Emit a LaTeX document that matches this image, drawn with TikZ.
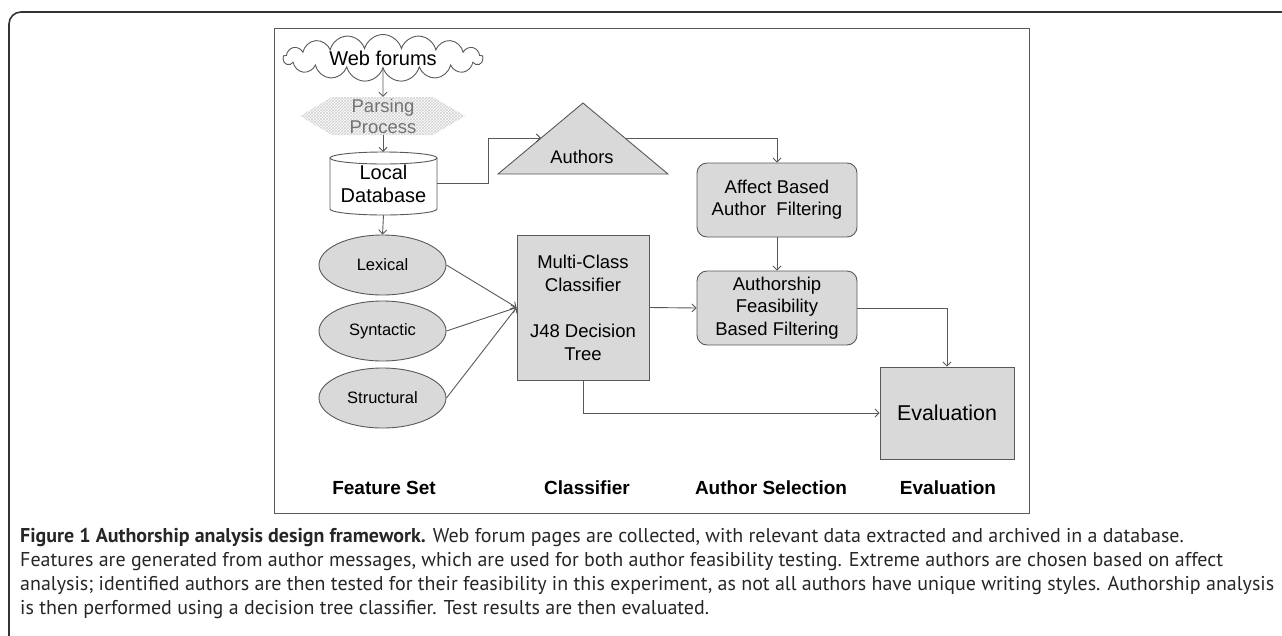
\documentclass[tikz,border=0pt]{standalone}
\usepackage{fontspec}
\setmainfont{Liberation Sans}
\newfontfamily\capfont{PT Sans}
\usetikzlibrary{arrows.meta,shapes.symbols,shapes.geometric,patterns}
\definecolor{boxfill}{HTML}{D9D9D9}
\definecolor{linec}{HTML}{595959}
\definecolor{captext}{HTML}{262626}
\tikzset{
  arr/.style={draw=linec, line width=0.9pt, -{Straight Barb[length=4pt,width=8pt]}},
  plainline/.style={draw=linec, line width=0.9pt},
  graybox/.style={draw=linec, line width=0.9pt, fill=boxfill, rectangle, align=center, inner sep=0pt},
  roundbox/.style={graybox, rounded corners=10pt},
  feat/.style={ellipse, draw=linec, line width=0.9pt, fill=boxfill, minimum width=127pt, minimum height=60pt, inner sep=0pt, font=\fontsize{16.5}{19}\selectfont},
  collabel/.style={font=\fontsize{19}{22}\selectfont\bfseries, inner sep=0pt},
}
\begin{document}
\begin{tikzpicture}[x=1pt,y=-1pt]
\useasboundingbox (0,0) rectangle (1282,635);
% outer frame
\draw[line width=1.6pt, draw=black!80, rounded corners=12pt] (9,640) -- (9,12) -- (1290,12);
% inner frame
\draw[draw=linec, line width=0.9pt] (274,28) rectangle (1029,513);

% cloud
\node[cloud, cloud puffs=17, cloud ignores aspect, draw=linec, line width=0.9pt, fill=white,
      minimum width=200pt, minimum height=47pt, inner sep=1pt,
      font=\fontsize{20}{22}\selectfont] (web) at (383,58) {Web forums};

% parsing process
\fill[pattern=crosshatch, pattern color=gray!38] (300,116) -- (332,97) -- (433,97) -- (465,116) -- (433,135) -- (332,135) -- cycle;
\node[minimum width=165pt, minimum height=38pt, inner sep=0pt, align=center, text=black!55,
      font=\fontsize{18.5}{21}\selectfont] (parse) at (383,116) {Parsing\\Process};

% database cylinder
\fill[white] (330,158) -- (330,209) arc[start angle=180,end angle=0,x radius=53.5,y radius=6] -- (437,158) -- cycle;
\draw[plainline] (330,158) -- (330,209) arc[start angle=180,end angle=0,x radius=53.5,y radius=6] -- (437,158);
\draw[plainline] (383.5,158) ellipse[x radius=53.5,y radius=6];
\node[minimum width=107pt, minimum height=63pt, inner sep=0pt, align=center,
      font=\fontsize{20}{23}\selectfont] (db) at (383.5,183.5) {Local\\Database};

% authors triangle
\coordinate (tA) at (583,103);
\coordinate (tL) at (498,174);
\coordinate (tR) at (668,174);
\filldraw[draw=linec, line width=0.9pt, fill=boxfill] (tA) -- (tL) -- (tR) -- cycle;
\node[font=\fontsize{18.3}{21}\selectfont, inner sep=0pt] (authors) at (582,157) {Authors};
\coordinate (authIn) at (541,138);
\coordinate (authOut) at (625,138);
\coordinate (bend) at (488,138);

% features
\node[feat] (lex) at (382.5,265) {Lexical};
\node[feat] (syn) at (382.5,331) {Syntactic};
\node[feat] (str) at (382.5,398) {Structural};

% classifier
\node[graybox, minimum width=132pt, minimum height=145pt, font=\fontsize{18.5}{23}\selectfont] (mc) at (583,307.5)
  {Multi-Class\\Classifier\\\mbox{}\\J48 Decision\\Tree};

% author selection
\node[roundbox, minimum width=160pt, minimum height=74pt, font=\fontsize{18.5}{22}\selectfont] (aff) at (777,200)
  {Affect Based\\Author\ \ Filtering};
\node[roundbox, minimum width=160pt, minimum height=74pt, font=\fontsize{18.5}{22.5}\selectfont] (auth) at (777,308)
  {Authorship\\Feasibility\\Based Filtering};

% evaluation
\node[graybox, minimum width=134pt, minimum height=92pt, font=\fontsize{21.4}{24}\selectfont] (eval) at (947,413) {Evaluation};

% column labels
\node[collabel] (l1) at (384,488) {Feature Set};
\node[collabel] (l2) at (587,488) {Classifier};
\node[collabel] (l3) at (771,488) {Author Selection};
\node[collabel] (l4) at (948,488) {Evaluation};

% connectors
\draw[arr] (web.south) -- (parse.north);
\draw[arr] (parse.south) -- (383,152);
\draw[arr] (db.south) -- (lex.north);
\draw[plainline] (db.east) -| (bend);
\draw[arr] (bend) -- (authIn);
\draw[arr] (authOut) -| (aff.north);
\draw[arr] (aff.south) -- (auth.north);
\draw[arr] (lex.east) -- (mc.west);
\draw[arr] (syn.east) -- (mc.west);
\draw[arr] (str.east) -- (mc.west);
\draw[arr] (mc.east) -- (auth.west);
\draw[arr] (mc.south) |- (eval.west);
\draw[arr] (auth.east) -| (eval.north);

% caption
\node[anchor=north west, inner sep=0pt, text=captext] (cap) at (20,526) {\resizebox{1254pt}{!}{\capfont\fontsize{10}{12}\selectfont
\begin{tabular}{@{}l@{}}
\textbf{Figure 1 Authorship analysis design framework.} Web forum pages are collected, with relevant data extracted and archived in a database.\\
Features are generated from author messages, which are used for both author feasibility testing. Extreme authors are chosen based on affect\\
analysis; identified authors are then tested for their feasibility in this experiment, as not all authors have unique writing styles. Authorship analysis\\
is then performed using a decision tree classifier. Test results are then evaluated.
\end{tabular}}};
\end{tikzpicture}
\end{document}
